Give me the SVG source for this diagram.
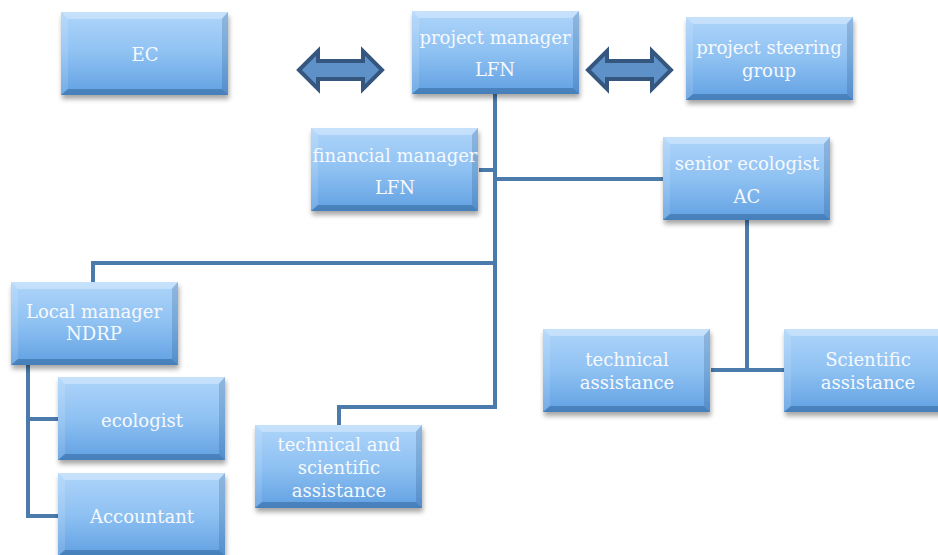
<svg xmlns="http://www.w3.org/2000/svg" width="938" height="555" viewBox="0 0 938 555">
<defs>
<linearGradient id="g" x1="0" y1="0" x2="0" y2="1">
<stop offset="0" stop-color="#afd5fa"/>
<stop offset="0.5" stop-color="#8ec1f2"/>
<stop offset="1" stop-color="#61a0e2"/>
</linearGradient>
<filter id="sh" x="-10%" y="-10%" width="130%" height="140%">
<feGaussianBlur stdDeviation="2.5"/>
</filter>
<g id="box">
<rect x="1" y="4" width="167" height="83" fill="#000" opacity="0.35" filter="url(#sh)"/>
<rect x="0" y="0" width="167" height="83" fill="url(#g)"/>
<polygon points="0,0 167,0 160,7 7,7" fill="#ffffff" opacity="0.3"/>
<polygon points="0,0 7,7 7,77 0,83" fill="#ffffff" opacity="0.12"/>
<polygon points="167,0 167,83 161,77 161,7" fill="#1f4f80" opacity="0.22"/>
<polygon points="0,83 167,83 161,77 7,77" fill="#1f4f80" opacity="0.4"/>
</g>
</defs>
<style>
.c{stroke:#4a7bab;stroke-width:4;fill:none}
.t{font-family:"DejaVu Serif",serif;font-size:18px;fill:#f6f9fd;text-anchor:middle}
.a{fill:#5d91c8;stroke:#34567f;stroke-width:4;stroke-linejoin:miter}
</style>
<rect width="938" height="555" fill="#ffffff"/>
<g id="connectors">
<path class="c" d="M495,94 V407 H339 V425"/>
<path class="c" d="M479,170 H495"/>
<path class="c" d="M495,179 H663"/>
<path class="c" d="M495,263 H93 V282"/>
<path class="c" d="M28,364 V516 H58 M28,419 H58"/>
<path class="c" d="M747,220 V370 M711,370 H784"/>
<polygon class="a" points="299,70 318,51 318,61 363,61 363,51 382,70 363,89 363,79 318,79 318,89"/>
<polygon class="a" points="588,70 607,51 607,61 652,61 652,51 671,70 652,89 652,79 607,79 607,89"/>
</g>
<g id="ec"><use href="#box" x="61" y="12"/><text class="t" x="145" y="61">EC</text></g>
<g id="pm"><use href="#box" x="412" y="11"/><text class="t" x="495" y="44">project manager</text><text class="t" x="495" y="76">LFN</text></g>
<g id="psg"><use href="#box" x="686" y="17"/><text class="t" x="769" y="54">project steering</text><text class="t" x="769" y="77">group</text></g>
<g id="fm"><use href="#box" x="311" y="128"/><text class="t" x="395" y="162">financial manager</text><text class="t" x="395" y="194">LFN</text></g>
<g id="se"><use href="#box" x="663" y="137"/><text class="t" x="747" y="170">senior ecologist</text><text class="t" x="747" y="203">AC</text></g>
<g id="lm"><use href="#box" x="11" y="282"/><text class="t" x="94" y="318">Local manager</text><text class="t" x="94" y="340">NDRP</text></g>
<g id="eco"><use href="#box" x="58" y="377"/><text class="t" x="142" y="427">ecologist</text></g>
<g id="acc"><use href="#box" x="58" y="473"/><text class="t" x="142" y="523">Accountant</text></g>
<g id="tsa"><use href="#box" x="255" y="425"/><text class="t" x="339" y="451">technical and</text><text class="t" x="339" y="474">scientific</text><text class="t" x="339" y="497">assistance</text></g>
<g id="ta"><use href="#box" x="543" y="329"/><text class="t" x="627" y="366">technical</text><text class="t" x="627" y="389">assistance</text></g>
<g id="sa"><use href="#box" x="784" y="329"/><text class="t" x="868" y="366">Scientific</text><text class="t" x="868" y="389">assistance</text></g>
</svg>
